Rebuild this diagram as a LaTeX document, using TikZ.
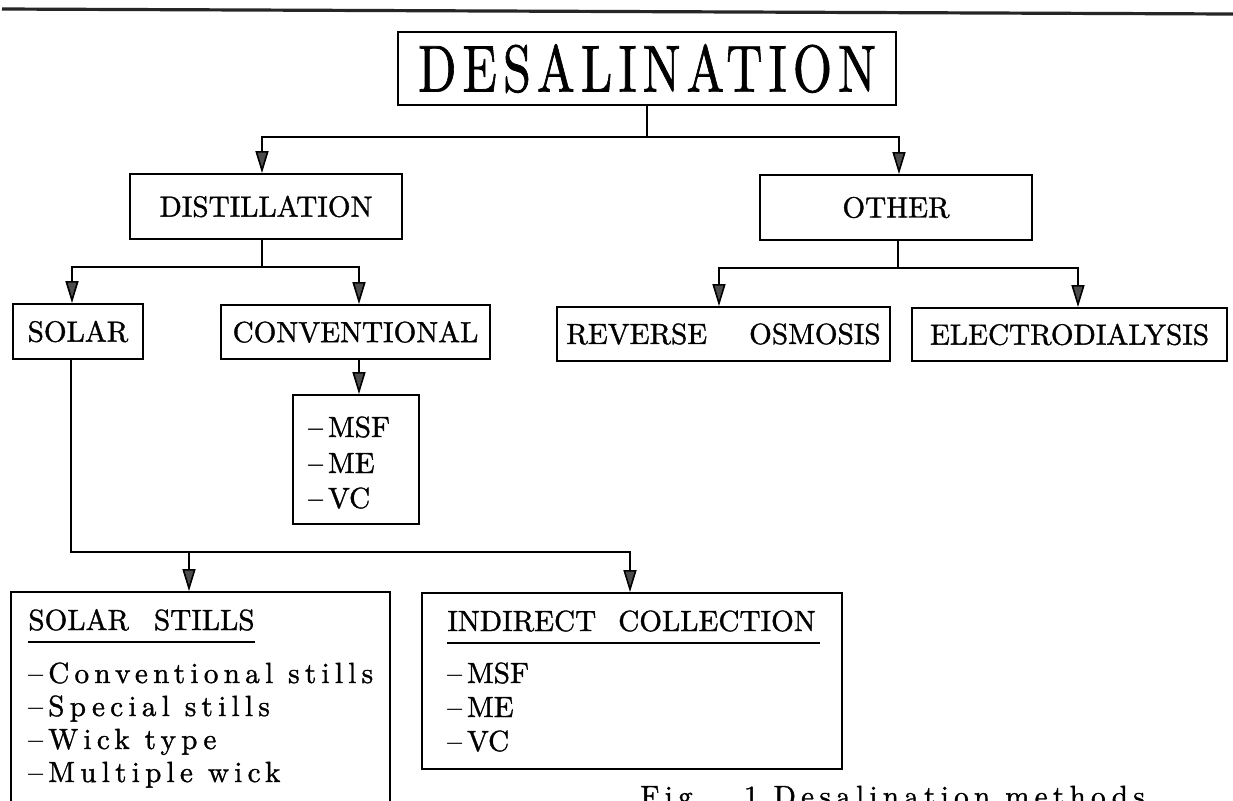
\documentclass[tikz,border=0pt]{standalone}
\usepackage{fontspec}
\setmainfont{lmroman10-regular}[Extension=.otf, FakeBold=1.2]
\usepackage{graphicx}
\usetikzlibrary{arrows.meta}
\newcommand\labfont{\fontsize{14.6}{17.5}\selectfont}
\newcommand\lsp{\addfontfeature{LetterSpace=18}}
\newcommand\dsh{–\kern2.5pt}
\tikzset{
  box/.style={draw=black, line width=0.9pt, inner sep=0pt, font=\labfont},
  txt/.style={anchor=base west, inner sep=0pt, font=\labfont},
  conn/.style={line width=0.8pt},
  arr/.style={line width=0.8pt, -{Triangle[length=11pt,width=6.5pt,fill=black!70]}},
  uline/.style={line width=0.8pt},
}
\begin{document}
\begin{tikzpicture}[x=0.5pt,y=-0.5pt]
\useasboundingbox (0,0) rectangle (1233,800);
\clip (0,0) rectangle (1233,800);
\fill[white] (0,0) rectangle (1233,800);
\draw[line width=1.6pt, black!85] (2,9) -- (1233,14);

% boxes
\node[box, minimum width=249pt, minimum height=36.5pt] (desal) at (647,68.5)
  {\scalebox{0.8}[1.05]{\fontsize{31.5}{36}\selectfont\addfontfeature{LetterSpace=12}DESALINATION}};
\node[box, minimum width=136pt, minimum height=32.5pt] (dist) at (266,206.5) {DISTILLATION};
\node[box, minimum width=136pt, minimum height=32.5pt] (other) at (896,207.5) {OTHER};
\node[box, minimum width=65pt, minimum height=27.5pt] (solar) at (78,331.5) {SOLAR};
\node[box, minimum width=134.5pt, minimum height=27pt] (conv) at (355.5,332) {CONVENTIONAL};
\node[box, minimum width=166.5pt, minimum height=27pt] (ro) at (723.5,334) {REVERSE\hspace{21pt}OSMOSIS};
\node[box, minimum width=157.5pt, minimum height=26.5pt] (ed) at (1069.5,334.5) {ELECTRODIALYSIS};
\node[box, minimum width=63pt, minimum height=64.5pt] (msf) at (356,459.5) {};
\node[box, minimum width=189.5pt, minimum height=119pt] (stills) at (200.5,711) {};
\node[box, minimum width=210pt, minimum height=88pt] (indirect) at (632,681) {};

% texts in MSF box
\node[txt] (m1) at (308,437) {\dsh MSF};
\node[txt] (m2) at (308,473) {\dsh ME};
\node[txt] (m3) at (308,508) {\dsh VC};

% solar stills
\node[txt] (s0) at (28,630) {SOLAR\hspace{12.5pt}STILLS};
\draw[uline] (28,642) -- (255,642);
\node[txt] (s1) at (28,683) {\lsp –Conventional stills};
\node[txt] (s2) at (28,716) {\lsp –Special stills};
\node[txt] (s3) at (28,749) {\lsp –Wick type};
\node[txt] (s4) at (28,782) {\lsp –Multiple wick};

% indirect collection
\node[txt] (i0) at (447,631) {INDIRECT\hspace{11pt}COLLECTION};
\draw[uline] (447,643) -- (820,643);
\node[txt] (i1) at (447,683) {\dsh MSF};
\node[txt] (i2) at (447,717) {\dsh ME};
\node[txt] (i3) at (447,751) {\dsh VC};

% caption
\node[txt] (cap) at (640,806) {\lsp Fig.\hspace{19pt}1 Desalination methods};

% connectors
\coordinate (j0) at (647,137);
\draw[conn] (desal.south) -- (j0);
\draw[arr] (j0) -| ([xshift=-2pt]dist.north);
\draw[arr] (j0) -| ([xshift=1.5pt]other.north);
\coordinate (j1) at (262,267);
\draw[conn] ([xshift=-2pt]dist.south) -- (j1);
\draw[arr] (j1) -| ([xshift=-3pt]solar.north);
\draw[arr] (j1) -| ([xshift=1.75pt]conv.north);
\coordinate (j2) at (898,268);
\draw[conn] ([xshift=1pt]other.south) -- (j2);
\draw[arr] (j2) -| ([xshift=-2.25pt]ro.north);
\draw[arr] (j2) -| ([xshift=4.25pt]ed.north);
\draw[arr] ([xshift=1.75pt]conv.south) -- ([xshift=1.5pt]msf.north);
\coordinate (j3) at (71,552);
\coordinate (j4) at (189,552);
\draw[arr] ([xshift=-3.5pt]solar.south) -- (j3) -| ([xshift=-1pt]indirect.north);
\draw[arr] (j4) -- ([xshift=-5.75pt]stills.north);
\end{tikzpicture}
\end{document}
